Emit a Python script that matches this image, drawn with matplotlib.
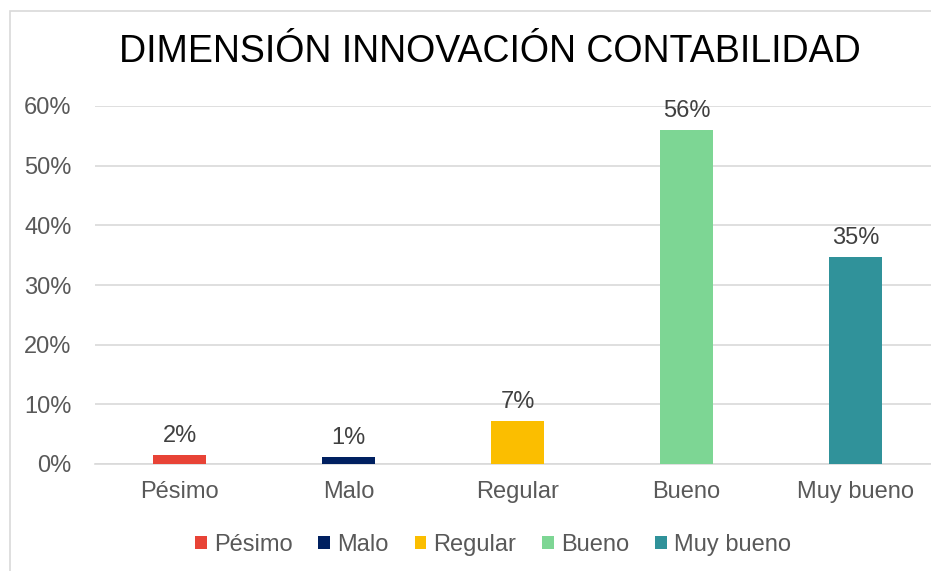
import matplotlib
matplotlib.use("Agg")
import matplotlib.pyplot as plt
from matplotlib.patches import Patch, Rectangle

# chart data
categorias = ["Pésimo", "Malo", "Regular", "Bueno", "Muy bueno"]
valores = [0.015, 0.012, 0.072, 0.559, 0.347]
etiquetas = ["2%", "1%", "7%", "56%", "35%"]
colores = ["#E84336", "#002060", "#FBBE00", "#7DD694", "#30929A"]
yticks = [0, 0.1, 0.2, 0.3, 0.4, 0.5, 0.6]
ytick_labels = ["0%", "10%", "20%", "30%", "40%", "50%", "60%"]

plt.rcParams['font.family'] = ['Liberation Sans', 'DejaVu Sans']

fig = plt.figure(figsize=(9.31, 5.71), dpi=100)
fig.patch.set_facecolor("white")

# chart area border (extends past the picture on right/bottom)
fig.patches.append(Rectangle((10 / 931, -0.1), 1.2, 1 - 11 / 571 + 0.1,
                             transform=fig.transFigure, fill=False,
                             edgecolor="#d9d9d9", linewidth=1.2))

ax = fig.add_axes([95 / 931, (571 - 464) / 571, 845 / 931, 358 / 571])
x = range(len(categorias))
bars = ax.bar(x, valores, width=0.31, color=colores, zorder=3)

for b, lab in zip(bars, etiquetas):
    ax.annotate(lab, (b.get_x() + b.get_width() / 2, b.get_height()),
                xytext=(0, 6), textcoords="offset points",
                ha="center", va="bottom", fontsize=17, color="#404040")

ax.set_ylim(0, 0.6)
ax.set_xlim(-0.5, 4.5)
ax.set_yticks(yticks)
ax.set_yticklabels(ytick_labels)
ax.set_xticks(list(x))
ax.set_xticklabels(categorias)
ax.tick_params(axis="both", length=0, labelsize=17, labelcolor="#595959")
ax.tick_params(axis="x", pad=12)
ax.tick_params(axis="y", pad=17)
ax.grid(axis="y", color="#d9d9d9", linewidth=1.2, zorder=0)
for s in ["top", "right", "left"]:
    ax.spines[s].set_visible(False)
ax.spines["bottom"].set_color("#d9d9d9")
ax.spines["bottom"].set_linewidth(1.2)

fig.text(490 / 931, 1 - 52 / 571, "DIMENSIÓN INNOVACIÓN CONTABILIDAD",
         ha="center", va="center", fontsize=27, color="black")

handles = [Patch(facecolor=c, label=n) for c, n in zip(colores, categorias)]
fig.legend(handles=handles, loc="center", bbox_to_anchor=(493 / 931, 1 - 545 / 571),
           ncol=5, frameon=False, fontsize=17, labelcolor="#595959",
           handlelength=0.5, handleheight=0.5, handletextpad=0.3, columnspacing=1.1)

fig.savefig("out.png", dpi=100)
